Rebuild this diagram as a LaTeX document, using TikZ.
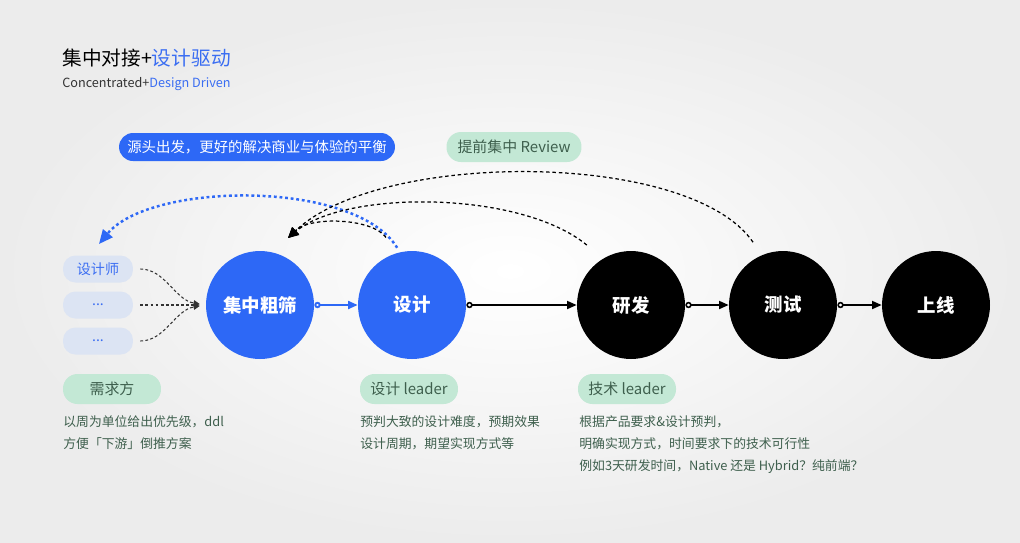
\documentclass[tikz,border=0pt]{standalone}
\usepackage{fontspec}
\setmainfont{Noto Sans CJK SC}
\usepackage{tikz}
\usetikzlibrary{arrows.meta}
\definecolor{dblue}{HTML}{2D68F6}
\definecolor{mint}{HTML}{C3E8D5}
\definecolor{mtext}{HTML}{3E5F4D}
\definecolor{pale}{HTML}{DCE4F3}
\definecolor{ptext}{HTML}{3B6EF2}
\definecolor{bgout}{HTML}{ECECEC}

\begin{document}
\begin{tikzpicture}[x=0.02cm,y=-0.02cm,
	stage/.style={circle,fill=#1,minimum size=2.16cm,inner sep=0pt,text=white,font=\fontsize{10.5}{12}\selectfont\bfseries},
	goalpill/.style={rounded corners=0.28cm,fill=dblue,text=white,minimum width=5.52cm,minimum height=0.56cm,inner sep=0pt,font=\fontsize{8.2}{10}\selectfont},
	mintpill/.style={rounded corners=0.29cm,fill=mint,text=mtext,minimum width=1.96cm,minimum height=0.6cm,inner sep=0pt,font=\fontsize{8.5}{10}\selectfont},
	palepill/.style={rounded corners=0.25cm,fill=pale,text=ptext,minimum width=1.4cm,minimum height=0.54cm,inner sep=0pt,font=\fontsize{8}{10}\selectfont},
	note/.style={anchor=north west,align=left,inner sep=0pt,text=mtext,font=\fontsize{7.3}{12.5}\selectfont},
	flow/.style={line width=0.9pt,{Circle[length=3.6pt,fill=white]}-{Triangle[length=5.5pt,width=4.6pt]}},
	feed/.style={line width=0.6pt,black!80,dash pattern=on 1.6pt off 1.3pt,-{Triangle[length=3.5pt,width=3.2pt]},shorten <=0.14cm,shorten >=0.12cm},
	review/.style={line width=0.7pt,dash pattern=on 2pt off 1.6pt,-{Triangle[length=6pt,width=5.5pt]}},
	backloop/.style={dblue,line width=1.4pt,dash pattern=on 1.6pt off 1.6pt,-{Triangle[length=8pt,width=7pt]}}]
	\shade [inner color=white,outer color=bgout] (0,0) rectangle (1020,542);
	\node [anchor=west,inner sep=0pt,font=\fontsize{11.2}{13}\selectfont] (title) at (62,58) {集中对接+\textcolor{ptext}{设计驱动}};
	\node [anchor=west,inner sep=0pt,text=black!80,font=\fontsize{7.2}{9}\selectfont] (subtitle) at (62,84) {Concentrated+\textcolor{ptext}{Design Driven}};
	\node [goalpill] (goal) at (257,147) {源头出发，更好的解决商业与体验的平衡};
	\node [mintpill,minimum width=2.7cm] (early) at (514,147) {提前集中 Review};
	\node [palepill] (ds) at (98,269) {设计师};
	\node [palepill] (oth1) at (98,305) {...};
	\node [palepill] (oth2) at (98,341) {...};
	\node [stage=dblue] (cs) at (260,305) {集中粗筛};
	\node [stage=dblue] (sj) at (412,305) {设计};
	\node [stage=black] (yf) at (631,305) {研发};
	\node [stage=black] (test) at (783,305) {测试};
	\node [stage=black] (live) at (936,305) {上线};
	\coordinate (rvtip) at (288,238);
	\coordinate (bktip) at (99,244);
	\draw [flow,dblue,line width=1.1pt] (cs) -- (sj);
	\draw [flow] (sj) -- (yf);
	\draw [flow] (yf) -- (test);
	\draw [flow] (test) -- (live);
	\draw [feed] (ds.east) .. controls (165,269) and (175,300) .. (cs.west);
	\draw [feed] (oth1.east) -- (cs.west);
	\draw [feed] (oth2.east) .. controls (165,341) and (175,310) .. (cs.west);
	\draw [backloop,shorten <=0.1cm] (sj.103) .. controls (355,179) and (150,182) .. (bktip);
	\draw [review,shorten <=0.38cm] (sj.106) .. controls (372,218) and (310,216) .. (rvtip);
	\draw [review,shorten <=0.42cm] (yf.121) .. controls (520,190) and (345,190) .. (rvtip);
	\draw [review,shorten <=0.31cm] (test.113) .. controls (690,150) and (380,150) .. (rvtip);
	\node [mintpill] (need) at (112,389) {需求方};
	\node [mintpill] (dlead) at (409,389) {设计 leader};
	\node [mintpill] (tlead) at (627,389) {技术 leader};
	\node [note] (needtxt) at (63,415) {以周为单位给出优先级，ddl\\方便「下游」倒推方案};
	\node [note] (dleadtxt) at (360,415) {预判大致的设计难度，预期效果\\设计周期，期望实现方式等};
	\node [note] (tleadtxt) at (579,415) {根据产品要求\&设计预判，\\明确实现方式，时间要求下的技术可行性\\例如3天研发时间，Native 还是 Hybrid？纯前端？};
\end{tikzpicture}
\end{document}
